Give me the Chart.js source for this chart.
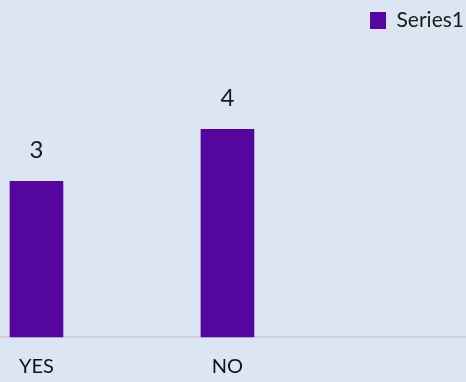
<!DOCTYPE html>
<html>
<head>
<meta charset="utf-8">
<script src="https://cdn.jsdelivr.net/npm/chart.js@4/dist/chart.umd.min.js"></script>
<style>
  html, body { margin: 0; padding: 0; background: #dce6f2; }
  #wrap { width: 466px; height: 382px; position: relative; }
</style>
</head>
<body>
<div id="wrap"><canvas id="chart"></canvas></div>
<script>
// chart data
const categories = ['YES', 'NO'];
const positions = [0, 1];
const seriesName = 'Series1';
const seriesValues = [3, 4];

// draw value labels above each bar
const valueLabels = {
    id: 'valueLabels',
    afterDatasetsDraw(chart) {
        const ctx = chart.ctx;
        ctx.save();
        ctx.font = '24px Lato';
        ctx.fillStyle = '#1a1a1a';
        ctx.textAlign = 'center';
        ctx.textBaseline = 'middle';
        chart.getDatasetMeta(0).data.forEach((bar, i) => {
            ctx.fillText(seriesValues[i], bar.x, bar.y - 31);
        });
        ctx.restore();
    }
};

const ctx = document.getElementById('chart').getContext('2d');
const chart = new Chart(ctx, {
    type: 'bar',
    data: {
        datasets: [{
            label: seriesName,
            data: positions.map((x, i) => ({ x: x, y: seriesValues[i] })),
            backgroundColor: '#54069f',
            borderColor: '#54069f',
            borderWidth: 0,
            barThickness: 53,
            clip: false
        }]
    },
    options: {
        responsive: true,
        maintainAspectRatio: false,
        animation: false,
        layout: { padding: { left: 0, right: 0, top: 8, bottom: 0 } },
        plugins: {
            legend: {
                position: 'top',
                align: 'end',
                labels: {
                    boxWidth: 16,
                    boxHeight: 17,
                    padding: 2,
                    color: '#1a1a1a',
                    font: { family: 'Lato', size: 21 }
                }
            },
            tooltip: { enabled: false }
        },
        scales: {
            x: {
                type: 'linear',
                offset: false,
                min: -0.191,
                max: 2.249,
                afterBuildTicks: axis => { axis.ticks = positions.map(v => ({ value: v })); },
                afterFit: axis => { axis.height = 45; },
                ticks: {
                    callback: v => categories[v],
                    color: '#111',
                    font: { family: 'Lato', size: 20 },
                    padding: 18,
                    maxRotation: 0
                },
                grid: { display: false, drawTicks: false },
                border: { display: true, color: '#d4d4d4', width: 2 }
            },
            y: {
                display: false,
                min: 0,
                max: 5.7
            }
        }
    },
    plugins: [valueLabels]
});
</script>
</body>
</html>
